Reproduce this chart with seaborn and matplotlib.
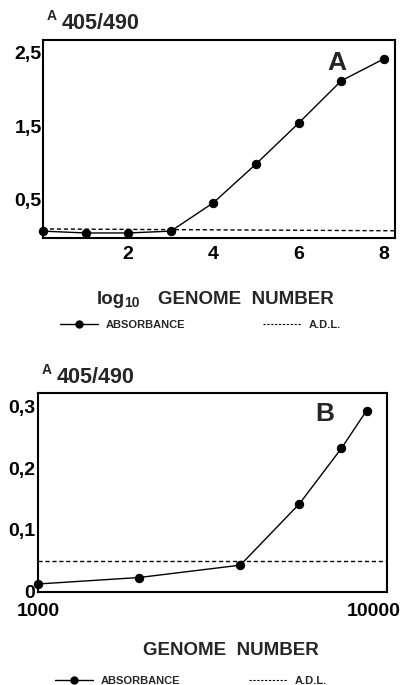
import matplotlib
matplotlib.use("Agg")
import matplotlib.pyplot as plt
from matplotlib.lines import Line2D
import seaborn as sns
import pandas as pd

# ---- data ----
a_log_genome = [0, 1, 2, 3, 4, 5, 6, 7, 8]
a_absorbance = [0.06, 0.035, 0.035, 0.06, 0.45, 0.98, 1.54, 2.12, 2.42]
a_adl_x = [0, 8.26]
a_adl_y = [0.09, 0.065]
a_yticks = [0.5, 1.5, 2.5]
a_yticklabels = ["0,5", "1,5", "2,5"]
a_xticks = [2, 4, 6, 8]
a_xticklabels = ["2", "4", "6", "8"]

b_genome = [1000, 2000, 4000, 6000, 8000, 9500]
b_absorbance = [0.0125, 0.023, 0.043, 0.1426, 0.2324, 0.2934]
b_adl_x = [1000, 10930]
b_adl_y = [0.050, 0.050]
b_yticks = [0, 0.1, 0.2, 0.3]
b_yticklabels = ["0", "0,1", "0,2", "0,3"]
b_xticks = [1000, 10000]
b_xticklabels = ["1000", "10000"]

sns.set_style("white")
plt.rcParams["font.family"] = ["Liberation Sans", "DejaVu Sans"]
plt.rcParams["font.weight"] = "bold"

W, H = 408, 685
fig = plt.figure(figsize=(W / 100, H / 100), dpi=100)

def frac(l, t, r, b):
    return [l / W, 1 - b / H, (r - l) / W, (b - t) / H]

axA = fig.add_axes(frac(43, 40, 395, 238))
axB = fig.add_axes(frac(38, 392.7, 387, 591.7))

dfA = pd.DataFrame({"x": a_log_genome, "y": a_absorbance})
dfB = pd.DataFrame({"x": b_genome, "y": b_absorbance})

for ax, df, ax_x, ax_y in [(axA, dfA, a_adl_x, a_adl_y), (axB, dfB, b_adl_x, b_adl_y)]:
    sns.lineplot(data=df, x="x", y="y", ax=ax, color="black", linewidth=1.0,
                 marker="o", markersize=6, markeredgecolor="black",
                 markerfacecolor="black", clip_on=False)
    sns.lineplot(x=ax_x, y=ax_y, ax=ax, color="black", linewidth=1.0,
                 linestyle=(0, (3, 2)))
    for s in ax.spines.values():
        s.set_linewidth(1.5)
        s.set_color("black")
    ax.set_xlabel("")
    ax.set_ylabel("")
    ax.tick_params(direction="in", length=5, width=1.2, color="black",
                   labelsize=14, labelcolor="black")

# panel A
axA.set_xlim(0, 8.26)
axA.set_ylim(-0.034, 2.678)
axA.set_yticks(a_yticks)
axA.set_yticklabels(a_yticklabels, fontweight="bold")
axA.set_xticks(a_xticks)
axA.set_xticklabels(a_xticklabels, fontweight="bold")
axA.tick_params(axis="y", pad=1)
axA.tick_params(axis="x", pad=6)
axA.text(0.835, 0.885, "A", transform=axA.transAxes, fontsize=19,
         fontweight="bold", ha="center", va="center")

# panel B
axB.set_xscale("log")
axB.set_xlim(1000, 10930)
axB.set_ylim(0, 0.3225)
axB.set_yticks(b_yticks)
axB.set_yticklabels(b_yticklabels, fontweight="bold")
axB.set_xticks(b_xticks)
axB.set_xticklabels(b_xticklabels, fontweight="bold")
axB.xaxis.set_minor_locator(matplotlib.ticker.NullLocator())
axB.tick_params(axis="y", pad=2)
axB.tick_params(axis="x", pad=8)
axB.text(0.822, 0.893, "B", transform=axB.transAxes, fontsize=19,
         fontweight="bold", ha="center", va="center")

# y-axis titles
def ytitle(x, y_base):
    fig.text(x / W, 1 - y_base / H, "A", fontsize=10, fontweight="bold",
             ha="left", va="baseline")
    fig.text((x + 15) / W, 1 - (y_base + 9) / H, "405/490", fontsize=15.5,
             fontweight="bold", ha="left", va="baseline")

ytitle(47, 20)
ytitle(42, 374)

# x labels
fig.text(97 / W, 1 - 304 / H, "log", fontsize=13.5, fontweight="bold",
         ha="left", va="baseline")
fig.text(124 / W, 1 - 307 / H, "10", fontsize=10, fontweight="bold",
         ha="left", va="baseline")
fig.text(158 / W, 1 - 304 / H, "GENOME  NUMBER", fontsize=13.5,
         fontweight="bold", ha="left", va="baseline")
fig.text(231 / W, 1 - 655 / H, "GENOME  NUMBER", fontsize=13.5,
         fontweight="bold", ha="center", va="baseline")

# legends
def make_legend(xfrac, yfrac, spacing):
    h1 = Line2D([], [], color="black", linewidth=1.0, marker="o",
                markersize=5, markerfacecolor="black", markeredgecolor="black")
    h2 = Line2D([], [], color="black", linewidth=0.8, linestyle=(0, (2, 1.5)))
    leg = fig.legend([h1, h2], ["ABSORBANCE", "A.D.L."], loc="center left",
                     bbox_to_anchor=(xfrac, yfrac), ncol=2, frameon=False,
                     fontsize=8, handlelength=3.4, handletextpad=0.7,
                     columnspacing=spacing, borderpad=0, borderaxespad=0)
    for t in leg.get_texts():
        t.set_fontweight("bold")
    return leg

make_legend(60 / W, 1 - 325 / H, 7.0)
make_legend(55 / W, 1 - 681 / H, 6.2)

fig.savefig("out.png", dpi=100)
